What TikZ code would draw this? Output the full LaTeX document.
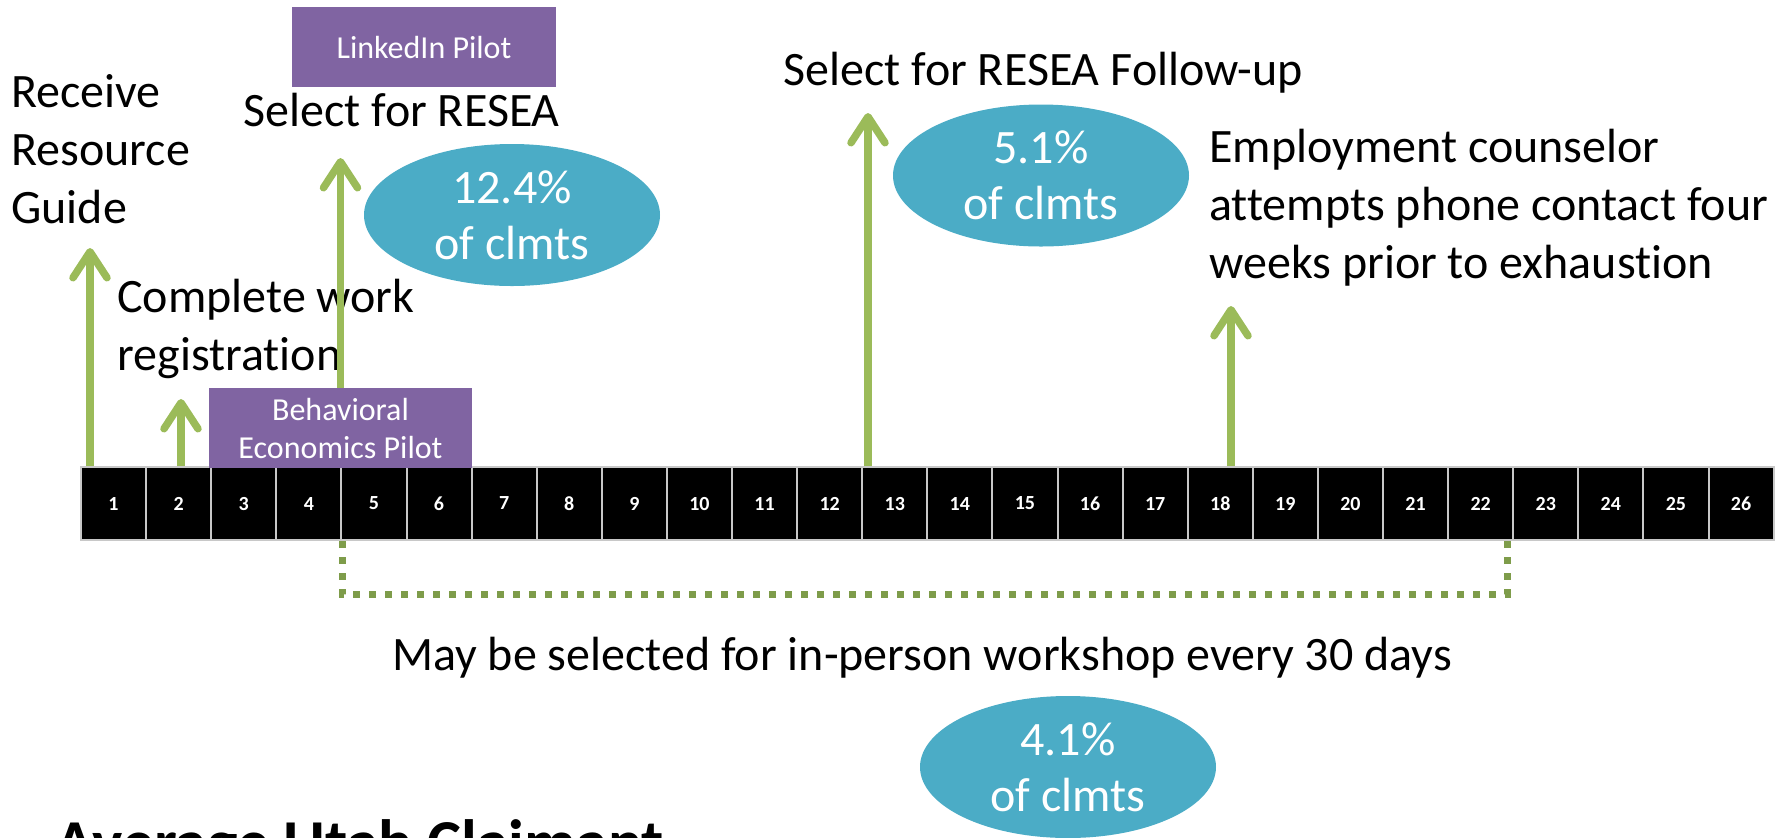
\documentclass[tikz,border=0pt]{standalone}
\usepackage{fontspec}
\setmainfont[Ligatures=NoCommon]{Carlito}
\usepackage{xcolor}
\usepackage{tikz}
\usetikzlibrary{positioning, shapes, calc, arrows.meta}

\definecolor{flaggreen}{HTML}{9BBB59}
\definecolor{dotgreen}{HTML}{7E9C4A}
\definecolor{pilotpurple}{HTML}{8064A2}
\definecolor{rateteal}{HTML}{4BACC6}
\definecolor{cellgray}{HTML}{C8C8C8}

\tikzset{
  daycell/.style={draw=cellgray, line width=1pt, fill=black, text=white, minimum width=32.55pt, minimum height=36.5pt, inner sep=0pt, font=\fontsize{10}{12}\selectfont\bfseries},
  flag/.style={flaggreen, line width=3.75pt, -{Straight Barb[length=13pt, width=17pt, round]}},
  pilotbox/.style={fill=pilotpurple, text=white, align=center, inner sep=0pt, font=\fontsize{16}{19}\selectfont},
  rate/.style={ellipse, fill=rateteal, text=white, align=center, inner sep=0pt, minimum width=148pt, minimum height=71pt, font=\fontsize{24}{28}\selectfont},
  steptext/.style={align=left, inner sep=0pt, font=\fontsize{24}{28.8}\selectfont}
}

\begin{document}
\begin{tikzpicture}[x=0.5pt, y=-0.5pt]
      \useasboundingbox (0,0) rectangle (1785,837); % same frame as the slide
      % week boxes
      \foreach \d in {1,...,26}
          \node[daycell] (d\d) at ({81+65.1*(\d-0.5)},503.5) {\d};
      % pilots
      \node[pilotbox, minimum width=132pt, minimum height=40pt] (linkedin) at (424,47) {LinkedIn Pilot};
      \node[pilotbox, minimum width=131.5pt, minimum height=40pt] (behav) at (340.5,428) {Behavioral\\Economics Pilot};
      % events (base = last line)
      \node[steptext, anchor=base west] (guide) at (11,223) {Receive\\Resource\\Guide};
      \node[steptext, anchor=base west] (workreg) at (117,370) {Complete work\\registration};
      \node[steptext, anchor=base west] (resea) at (243,126) {Select for RESEA};
      \node[steptext, anchor=base west] (followup) at (783,85) {Select for RESEA Follow-up};
      \node[steptext, anchor=base west] (counsel) at (1209,278) {Employment counselor\\attempts phone contact four\\weeks prior to exhaustion};
      \node[steptext, anchor=base] (workshop) at (922,670) {May be selected for in-person workshop every 30 days};
      \node[anchor=base west, inner sep=0pt, font=\fontsize{32}{38}\selectfont\bfseries] (title) at (55,864) {Average Utah Claimant};
      % shares of claimants
      \node[rate] (rateA) at (512,215) {12.4\%\\of clmts};
      \node[rate] (rateB) at (1041,175.5) {5.1\%\\of clmts};
      \node[rate] (rateC) at (1068,767) {4.1\%\\of clmts};
      % arrow tips
      \coordinate (tipA) at (90,248);
      \coordinate (tipB) at (181,399);
      \coordinate (tipC) at (340.5,158);
      \coordinate (tipD) at (868,113);
      \coordinate (tipE) at (1231,306);
      \draw[flag] (tipA |- d1.north) -- (tipA);
      \draw[flag] (tipB |- d2.north) -- (tipB);
      \draw[flag] (tipC |- behav.north) -- (tipC);
      \draw[flag] (tipD |- d13.north) -- (tipD);
      \draw[flag] (tipE |- d18.north) -- (tipE);
      % workshop window
      \draw[dotgreen, line width=3.5pt, dash pattern=on 3.5pt off 4.5pt] 
          (d4.south east) -- ++(0,53) -| ($(d22.south east)+(-7,0)$);
  \end{tikzpicture}
\end{document}
